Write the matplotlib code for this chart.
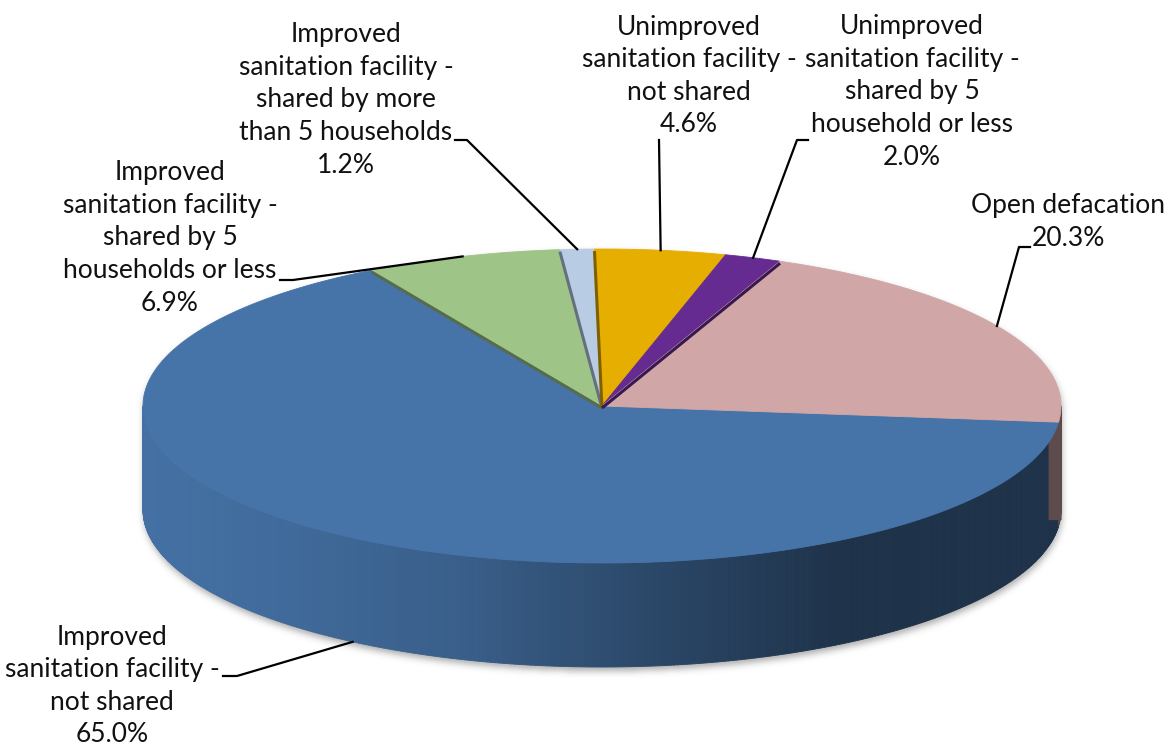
import numpy as np
import matplotlib
matplotlib.use("Agg")
import matplotlib.pyplot as plt
from matplotlib.collections import PolyCollection
from matplotlib.patches import Polygon

# --- data ------------------------------------------------------------------
categories = [
    "Improved\nsanitation facility -\nnot shared",
    "Improved\nsanitation facility -\nshared by 5\nhouseholds or less",
    "Improved\nsanitation facility -\nshared by more\nthan 5 households",
    "Unimproved\nsanitation facility -\nnot shared",
    "Unimproved\nsanitation facility -\nshared by 5\nhousehold or less",
    "Open defacation",
]
shares = [65.0, 6.9, 1.2, 4.6, 2.0, 20.3]
colors = ["#4674a9", "#9fc487", "#b8cce4", "#e6ae00", "#652b91", "#d1a6a6"]

# --- layout (pixel space) --------------------------------------------------
W, H = 1168, 749
cx, cy = 602, 406          # centre of the top face
rx, ry = 459, 157          # ellipse radii of the top face
depth = 104                # height of the cylinder wall
start = -5.9               # angle of the first slice edge, drawn clockwise

text_xy = [(112, 686), (170, 238), (346, 100), (689, 76), (912, 92), (1068, 222)]
knees = [
    [(223, 676), (237, 676)],
    [(280, 280), (293, 280)],
    [(455, 140), (467, 140)],
    [(659, 140)],
    [(808, 140), (797, 140)],
    [(1030, 247), (1019, 247)],
]
# slices whose radial cut face shows as a darker rim, and on which edge
rims = {1: "ccw", 2: "ccw", 3: "ccw", 4: "cw"}

# wall shading vs. horizontal position on the cylinder
shade_u = [-1.0, -0.66, -0.29, -0.09, 0.32, 0.54, 1.0]
shade_f = [0.97, 0.91, 0.81, 0.71, 0.52, 0.43, 0.43]


def pt(a, dz=0.0):
    t = np.radians(a)
    return cx + rx * np.cos(t), cy - ry * np.sin(t) + dz


def arc(a1, a2, dz=0.0, n=None):
    n = n or max(4, int(abs(a1 - a2) * 2))
    ts = np.linspace(a1, a2, n)
    xs, ys = pt(ts, dz)
    return np.column_stack([xs, ys])


def rgb(c):
    return np.array(matplotlib.colors.to_rgb(c))


fig = plt.figure(figsize=(W / 100, H / 100), dpi=100)
ax = fig.add_axes([0, 0, 1, 1])
ax.set_xlim(0, W)
ax.set_ylim(H, 0)
ax.axis("off")

# --- soft drop shadow under the cylinder ------------------------------------
X, Y = np.meshgrid(np.arange(W) + 0.5, np.arange(H) + 0.5)
u = (X - cx) / rx
inside = np.abs(u) < 1
half = ry * np.sqrt(np.clip(1 - u ** 2, 0, None))
mask = (inside & (Y >= cy - half) & (Y <= cy + depth + half)).astype(float)
sig = 3.5
k = np.exp(-0.5 * (np.arange(-12, 13) / sig) ** 2)
k /= k.sum()
blur = np.apply_along_axis(lambda r: np.convolve(r, k, mode="same"), 1, mask)
blur = np.apply_along_axis(lambda c: np.convolve(c, k, mode="same"), 0, blur)
blur = np.roll(np.roll(blur, 4, axis=0), 1, axis=1)
shadow = np.zeros((H, W, 4))
shadow[..., :3] = 0.35
shadow[..., 3] = 0.5 * blur
ax.imshow(shadow, extent=(0, W, H, 0), zorder=0, interpolation="bilinear")

# --- slice angles (clockwise from start) ------------------------------------
cum = np.concatenate([[0], np.cumsum(shares)])
total = cum[-1]
a_hi = start - cum[:-1] / total * 360
a_lo = start - cum[1:] / total * 360
a_mid = (a_hi + a_lo) / 2

# --- outer wall (front half only) -------------------------------------------
strips, strip_cols = [], []
for i in range(len(shares)):
    for kk in (-1, 0, 1):
        lo = max(a_lo[i], -180 + 360 * kk)
        hi = min(a_hi[i], 360 * kk)
        if hi <= lo:
            continue
        edges = np.linspace(lo, hi, max(2, int((hi - lo) * 2)) + 1)
        for e0, e1 in zip(edges[:-1], edges[1:]):
            top = arc(e0, e1, 0, 3)
            bot = arc(e1, e0, depth, 3)
            strips.append(np.vstack([top, bot]))
            xm = pt((e0 + e1) / 2)[0]
            f = np.interp((xm - cx) / rx, shade_u, shade_f)
            strip_cols.append(np.clip(rgb(colors[i]) * f, 0, 1))
ax.add_collection(PolyCollection(strips, facecolors=strip_cols,
                                 edgecolors=strip_cols, linewidths=0.6,
                                 zorder=2))

# pink wall edge where it meets the blue wall (radial cut, seen side-on)
ex, ey = pt(start)
ax.add_patch(Polygon([(ex - 10, ey + 2), (ex + 3, ey), (ex + 3, ey + depth - 6),
                      (ex - 10, ey + depth - 6)], closed=True,
                     facecolor=np.clip(rgb(colors[-1]) * 0.45, 0, 1),
                     lw=0, zorder=2.1))

# --- top face ------------------------------------------------------------
for i in range(len(shares)):
    poly = np.vstack([[cx, cy], arc(a_hi[i], a_lo[i])])
    ax.add_patch(Polygon(poly, closed=True, facecolor=colors[i],
                         edgecolor=colors[i], lw=0.6, zorder=3))

# darker rims on the small back slices
for i, side in rims.items():
    a = a_hi[i] if side == "ccw" else a_lo[i]
    ex, ey = pt(a)
    dark = rgb(colors[i]) * 0.55
    ax.plot([cx, ex], [cy + 2, ey + 2], color=dark, lw=2.2,
            solid_capstyle="butt", zorder=3.5)

# --- labels and leader lines ----------------------------------------------
for i in range(len(shares)):
    tx, ty = text_xy[i]
    ax.text(tx, ty, f"{categories[i]}\n{shares[i]:.1f}%", ha="center",
            va="center", fontsize=19, family="Lato", color="#111111",
            linespacing=1.38, zorder=5)
    back = np.sin(np.radians(a_mid[i])) < 0
    ex, ey = pt(a_mid[i], depth if back else 0)
    path = knees[i] + [(ex, ey)]
    ax.plot([p[0] for p in path], [p[1] for p in path], color="black",
            lw=1.6, zorder=4)

fig.savefig("out.png", dpi=100)
